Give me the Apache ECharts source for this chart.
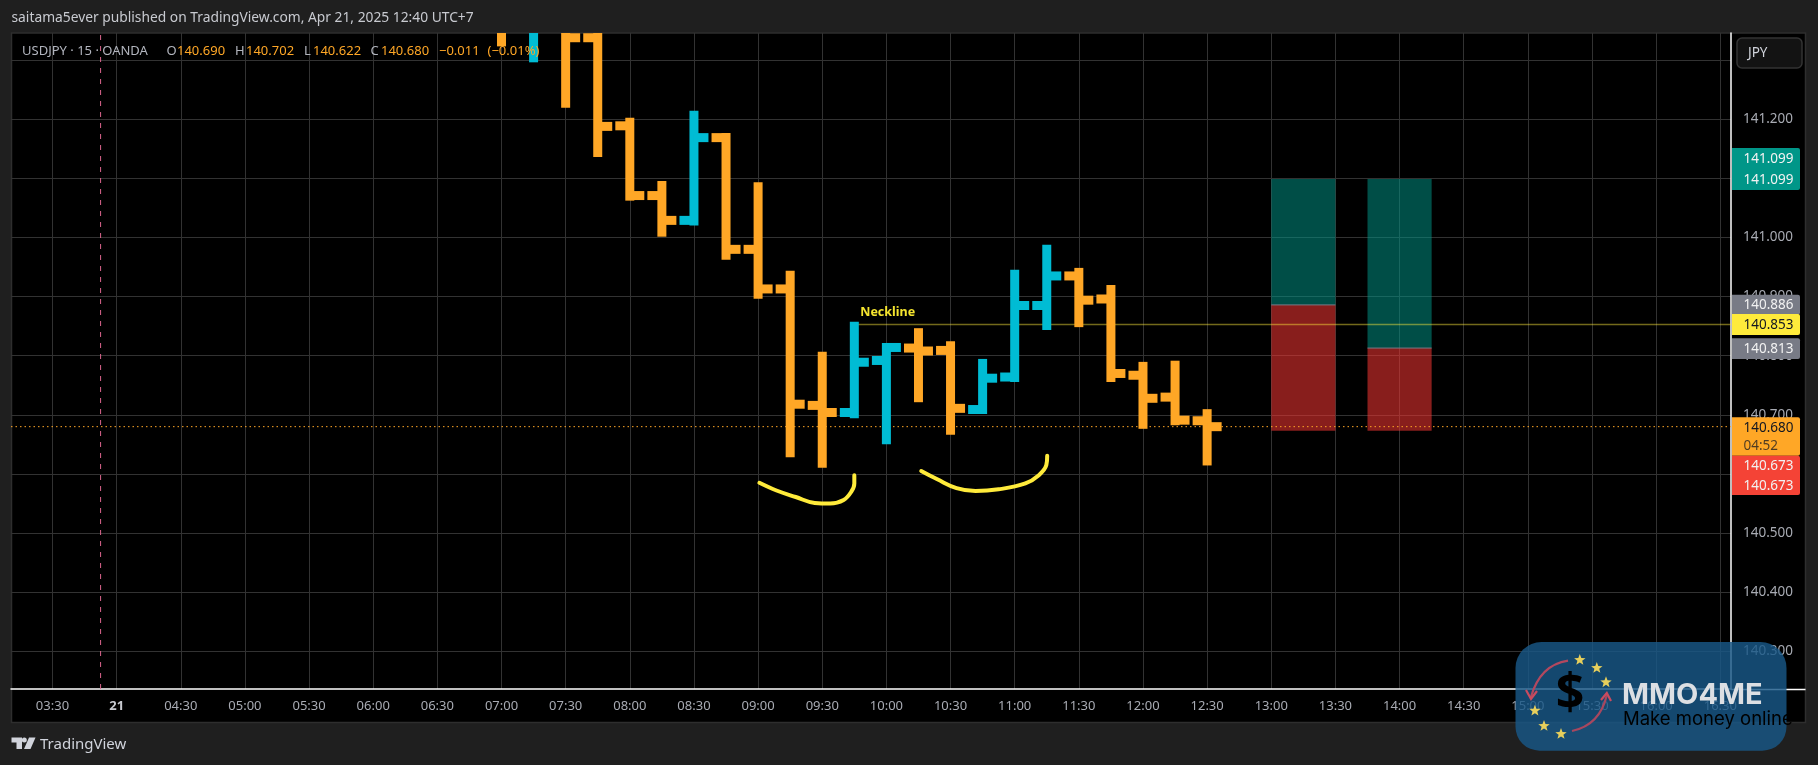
<!DOCTYPE html>
<html><head><meta charset="utf-8">
<style>html,body{margin:0;padding:0;background:#1f1f1f;overflow:hidden}#c{width:1818px;height:765px}</style>
<script src="https://cdn.jsdelivr.net/npm/echarts@6/dist/echarts.min.js"></script>
</head><body><div id="c"></div>
<script>
// minutes since midnight (15 minute bars)
var barTimes = [420,435,450,465,480,495,510,525,540,555,570,585,600,615,630,645,660,675,690,705,720,735,750];
var opens  = [141.390,141.360,141.365,141.338,141.189,141.071,141.029,141.169,140.980,140.913,140.716,140.704,140.792,140.813,140.809,140.709,140.764,140.885,140.935,140.896,140.767,140.730,140.690];
var highs  = [141.400,141.380,141.390,141.360,141.195,141.088,141.207,141.169,141.086,140.936,140.799,140.850,140.814,140.839,140.817,140.787,140.938,140.980,140.941,140.912,140.782,140.784,140.702];
var lows   = [141.331,141.304,141.227,141.144,141.070,141.009,141.028,140.970,140.904,140.636,140.618,140.702,140.658,140.729,140.674,140.709,140.763,140.851,140.856,140.763,140.684,140.690,140.622];
var closes = [141.370,141.365,141.338,141.188,141.071,141.029,141.169,140.980,140.913,140.718,140.704,140.789,140.814,140.808,140.711,140.762,140.885,140.935,140.894,140.770,140.728,140.691,140.680];

var timeTicks = [210,240,270,300,330,360,390,420,450,480,510,540,570,600,630,660,690,720,750,780,810,840,870,900,930,960,990];
var timeLabels = ['03:30','21','04:30','05:00','05:30','06:00','06:30','07:00','07:30','08:00','08:30','09:00','09:30','10:00','10:30','11:00','11:30','12:00','12:30','13:00','13:30','14:00','14:30','15:00','15:30','16:00','16:30'];
var priceTicks = [140.3,140.4,140.5,140.6,140.7,140.8,140.9,141.0,141.1,141.2,141.3];

var xMin = 190.6, xMax = 995.0, yMin = 140.2362, yMax = 141.346;

var boxStart = [780,825], boxEnd = [810,855];
var boxTop = [141.099,141.099], boxMid = [140.886,140.813], boxBottom = [140.673,140.673];

var neckline = [[585,140.853],[xMax,140.853]];
var necklineLabel = [[600.6,140.874]];
var lastPrice = [[xMin,140.680],[xMax,140.680]];
var sessionBreak = [[232.5,yMin],[232.5,yMax]];
var stroke1 = [[540.6,140.585],[548.6,140.572],[557.6,140.561],[566.5,140.551],[573.7,140.550],[580,140.556],[583.6,140.570],[585,140.584],[585,140.598]];
var stroke2 = [[616.3,140.605],[623.8,140.591],[632.8,140.576],[641.7,140.571],[652.5,140.574],[665,140.584],[671.3,140.598],[674.8,140.615],[675.2,140.631]];

var FONT = '"Noto Sans", sans-serif';
var ORANGE='#ffa726', CYAN='#00bcd4', GREY='#b2b5be';
var ohlcData = barTimes.map(function(t,i){return [t,opens[i],highs[i],lows[i],closes[i]];});
var boxData = boxStart.map(function(s,i){return [s,boxEnd[i],boxTop[i],boxMid[i],boxBottom[i]];});

function renderOHLC(params, api){
  var t=api.value(0),o=api.coord([t,api.value(1)]),h=api.coord([t,api.value(2)]),l=api.coord([t,api.value(3)]),c=api.coord([t,api.value(4)]);
  var col = api.value(4)>=api.value(1)?CYAN:ORANGE, hw=4.5, tick=10, st={fill:col};
  return {type:'group',children:[
    {type:'rect',shape:{x:h[0]-hw,y:h[1]-hw,width:hw*2,height:l[1]-h[1]+hw*2},style:st},
    {type:'rect',shape:{x:o[0]-hw-tick,y:o[1]-hw,width:tick+hw,height:hw*2},style:st},
    {type:'rect',shape:{x:c[0],y:c[1]-hw,width:tick+hw,height:hw*2},style:st}
  ]};
}
function renderBox(params, api){
  var s=api.value(0),e=api.value(1);
  var a=api.coord([s,api.value(2)]),b=api.coord([e,api.value(3)]),d=api.coord([e,api.value(4)]);
  var m=api.coord([s,api.value(3)]);
  return {type:'group',children:[
    {type:'rect',shape:{x:a[0],y:a[1],width:b[0]-a[0],height:b[1]-a[1]},style:{fill:'rgba(0,150,136,0.52)'}},
    {type:'rect',shape:{x:a[0],y:b[1],width:b[0]-a[0],height:d[1]-b[1]},style:{fill:'rgba(242,54,50,0.56)'}},
    {type:'line',shape:{x1:m[0],y1:m[1],x2:b[0],y2:b[1]},style:{stroke:'#787b86',lineWidth:1}}
  ]};
}
function renderNeck(params, api){
  var p=api.coord([api.value(0),api.value(1)]);
  return {type:'text',style:{x:p[0],y:p[1],text:'Neckline',fill:'#f5e52f',font:'bold 12.5px '+FONT,textAlign:'center',textVerticalAlign:'middle'}};
}
function lineS(data,style,z,extra){
  var o={type:'line',data:data,symbol:'none',silent:true,z:z,lineStyle:style,animation:false,clip:true};
  for(var k in extra)o[k]=extra[k];
  return o;
}
function tagRect(x,y,w,h,fill,z){return {type:'rect',z:z||20,silent:true,shape:{x:x,y:y,width:w,height:h,r:[0,2,2,0]},style:{fill:fill}};}
function tagText(y,t,fill,op){return {type:'text',z:22,silent:true,style:{x:1743.5,y:y,text:t,fill:fill,font:'13.5px '+FONT,textVerticalAlign:'middle',opacity:op||1}};}
function star(cx,cy,r){
  var pts=[];for(var i=0;i<10;i++){var a=-Math.PI/2+i*Math.PI/5,rr=i%2?r*0.42:r;pts.push([cx+rr*Math.cos(a),cy+rr*Math.sin(a)]);}
  return {type:'polygon',z:31,silent:true,shape:{points:pts},style:{fill:'#e7cf5c'}};
}
function txt(x,y,t,fill,font,z){return {type:'text',z:z||25,silent:true,style:{x:x,y:y,text:t,fill:fill,font:font,textVerticalAlign:'middle'}};}
function curve(x1,y1,cx,cy,x2,y2,col){return {type:'bezierCurve',z:31,silent:true,shape:{x1:x1,y1:y1,x2:x2,y2:y2,cpx1:cx,cpy1:cy},style:{fill:'none',stroke:col,lineWidth:2.2}};}
function arrow(pts,col){return {type:'polyline',z:31,silent:true,shape:{points:pts},style:{fill:'none',stroke:col,lineWidth:2.2}};}

var graphics = [
  {type:'rect',z:-5,silent:true,shape:{x:11.5,y:33,width:1794,height:689.5},style:{fill:'#000',stroke:'#2e2e2e',lineWidth:1.5}},
  txt(11.5,18,'saitama5ever published on TradingView.com, Apr 21, 2025 12:40 UTC+7','#c8cad0','13.8px '+FONT),
  txt(22,51.5,'USDJPY · 15 · OANDA',GREY,'13px '+FONT),
  txt(166.5,51.5,'O',GREY,'13px '+FONT),txt(177,51.5,'140.690',ORANGE,'13px '+FONT),
  txt(235,51.5,'H',GREY,'13px '+FONT),txt(246,51.5,'140.702',ORANGE,'13px '+FONT),
  txt(304,51.5,'L',GREY,'13px '+FONT),txt(313,51.5,'140.622',ORANGE,'13px '+FONT),
  txt(370.5,51.5,'C',GREY,'13px '+FONT),txt(381,51.5,'140.680',ORANGE,'13px '+FONT),
  txt(439,51.5,'−0.011',ORANGE,'13px '+FONT),txt(487.5,51.5,'(−0.01%)',ORANGE,'13px '+FONT),
  {type:'line',z:15,silent:true,shape:{x1:1731,y1:689.5,x2:1805.5,y2:689.5},style:{stroke:'#fff',lineWidth:1.5}},
  {type:'rect',z:15,silent:true,shape:{x:1737,y:38,width:65,height:30,r:5},style:{fill:'#131313',stroke:'#333',lineWidth:1.5}},
  txt(1748,53,'JPY','#d1d4dc','13.5px '+FONT),
  tagRect(1732,148,68,42,'#009688'),tagText(159.3,'141.099','#f2f2f2'),tagText(180.3,'141.099','#f2f2f2'),
  tagRect(1732,294.7,68,20,'#787b86'),tagText(305.3,'140.886','#f2f2f2'),
  tagRect(1732,314,68,21,'#ffeb3b'),tagText(325,'140.853','#131722'),
  tagRect(1732,338.3,68,20.7,'#787b86'),tagText(349,'140.813','#f2f2f2'),
  tagRect(1732,417.3,68,38.4,ORANGE),tagText(428.3,'140.680','#131722'),tagText(445.7,'04:52','#131722',0.75),
  tagRect(1732,455.7,68,39.3,'#f44336'),tagText(466,'140.673','#f2f2f2'),tagText(485.7,'140.673','#f2f2f2'),
  // TradingView logo
  {type:'polygon',z:25,silent:true,shape:{points:[[11.5,737.5],[22,737.5],[22,749],[16.5,749],[16.5,742.5],[11.5,742.5]]},style:{fill:'#d1d4dc'}},
  {type:'circle',z:25,silent:true,shape:{cx:24.3,cy:740,r:2.5},style:{fill:'#d1d4dc'}},
  {type:'polygon',z:25,silent:true,shape:{points:[[29,737.5],[35.5,737.5],[30.5,749],[24,749]]},style:{fill:'#d1d4dc'}},
  txt(40,745,'TradingView','#d1d4dc','15px '+FONT),
  // MMO4ME watermark
  {type:'rect',z:30,silent:true,shape:{x:1515.5,y:642,width:271,height:108.7,r:[26,26,24,24]},style:{fill:'rgba(24,88,135,0.82)'}},
  curve(1568,660.7,1540,665,1531,697,'#b2485f'),
  arrow([[1526,690],[1531,699],[1537,691]],'#c94b5f'),
  curve(1572,731,1600,725,1606.8,695,'#a8475f'),
  arrow([[1601,700],[1606.8,693],[1611,701]],'#c94b5f'),
  star(1579.8,660,6),star(1596.8,668,6),star(1606,682.3,6),star(1534.9,710.7,6),star(1544,726,6),star(1561,734,6),
  {type:'text',z:31,silent:true,style:{x:1570,y:695,text:'$',font:'bold 50px '+FONT,textAlign:'center',textVerticalAlign:'middle',
     fill:new echarts.graphic.LinearGradient(0,0,1,1,[{offset:0,color:'#58c98c'},{offset:1,color:'#d8d83a'}])}},
  txt(1622,695,'MMO4ME','#dcdfe3','bold 29px Inter, '+FONT,31),
  {type:'text',z:31,silent:true,style:{x:1623,y:719,text:'Make money online',font:'18.5px Inter, '+FONT,textVerticalAlign:'middle',
     fill:new echarts.graphic.LinearGradient(0,0,1,0,[{offset:0,color:'#5cab83'},{offset:1,color:'#3f7fc0'}])}}
];

var chart = echarts.init(document.getElementById('c'),null,{renderer:'canvas'});
chart.setOption({
  animation:false,
  backgroundColor:'#1f1f1f',
  textStyle:{fontFamily:FONT},
  grid:{left:11,right:87,top:33,bottom:76,containLabel:false},
  xAxis:{type:'value',min:xMin,max:xMax,
    axisLine:{show:true,onZero:false,lineStyle:{color:'#fff',width:1.5}},
    axisTick:{show:false,customValues:timeTicks},
    splitLine:{show:true,lineStyle:{color:'#323232',width:1}},
    axisLabel:{customValues:timeTicks,margin:11,color:'#a8abb3',fontSize:13,fontFamily:FONT,showMinLabel:true,showMaxLabel:true,
      formatter:function(v){var s=timeLabels[timeTicks.indexOf(v)];return s==='21'?'{d|21}':s;},
      rich:{d:{fontWeight:'bold',color:'#c8cad0',fontSize:13,fontFamily:FONT}}}},
  yAxis:{type:'value',position:'right',min:yMin,max:yMax,
    axisLine:{show:true,onZero:false,lineStyle:{color:'#fff',width:1.5}},
    axisTick:{show:false,customValues:priceTicks},
    splitLine:{show:true,lineStyle:{color:'#323232',width:1}},
    axisLabel:{customValues:priceTicks,margin:12,color:'#a8abb3',fontSize:13.5,fontFamily:FONT,
      formatter:function(v){return v.toFixed(3);}}},
  graphic:{elements:graphics},
  series:[
    {type:'custom',z:3,silent:true,clip:true,renderItem:renderBox,data:boxData,encode:{x:[0,1],y:[2,3,4]}},
    lineS(neckline,{color:'rgba(255,235,59,0.45)',width:1.5},4),
    lineS(lastPrice,{color:ORANGE,width:1,type:[1.5,3]},4),
    lineS(sessionBreak,{color:'#d9648c',width:1,type:[5,6]},4),
    {type:'custom',z:5,silent:true,clip:true,renderItem:renderOHLC,data:ohlcData,encode:{x:0,y:[1,2,3,4]}},
    lineS(stroke1,{color:'#ffeb3b',width:4,cap:'round',join:'round'},6,{smooth:0.4}),
    lineS(stroke2,{color:'#ffeb3b',width:4,cap:'round',join:'round'},6,{smooth:0.4}),
    {type:'custom',z:7,silent:true,renderItem:renderNeck,data:necklineLabel,encode:{x:0,y:1}}
  ]
});
</script></body></html>
